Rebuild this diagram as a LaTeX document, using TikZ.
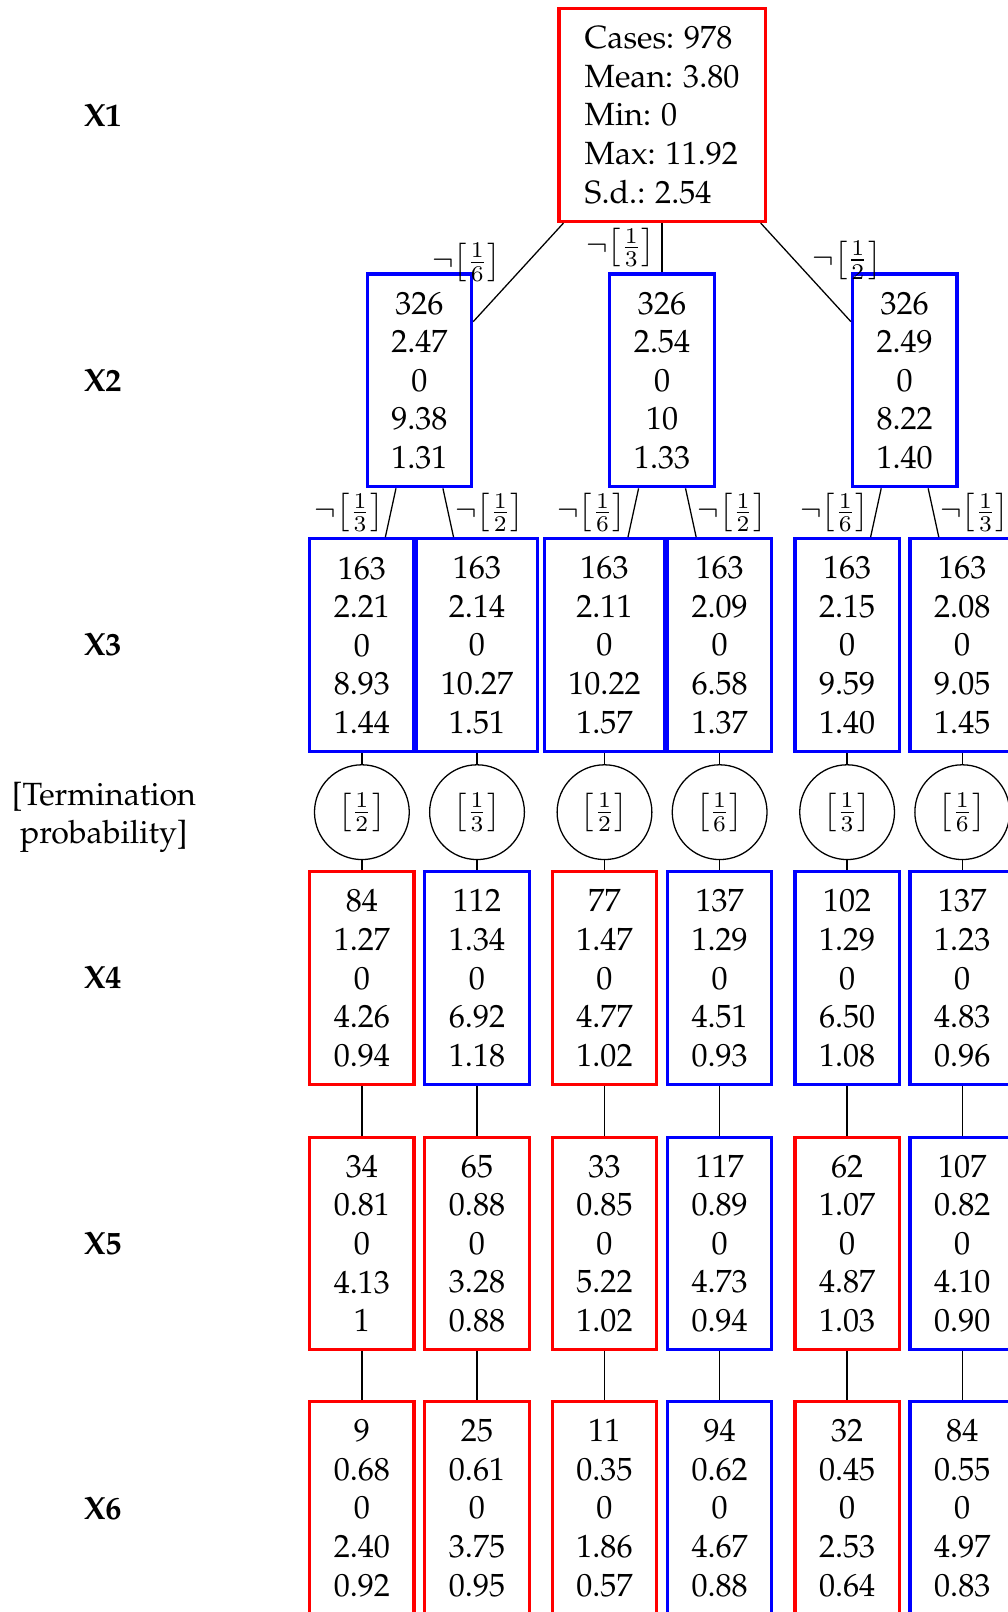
\documentclass[tikz,border=0pt]{standalone}
\usepackage[T1]{fontenc}
\usepackage{palatino}
\usepackage{amsmath,amssymb}
\usepackage{tikz}

\begin{document}
\begin{tikzpicture}[
  x=0.32pt, y=-0.32pt,
  stat/.style={draw, rectangle, line width=1pt, align=center, inner xsep=7.5pt, inner ysep=4.5pt, minimum height=66.2pt},
  redcell/.style={stat, draw=red},
  bluecell/.style={stat, draw=blue},
  term/.style={draw, circle, minimum size=29.5pt, inner sep=0pt},
  rowlabel/.style={font=\bfseries},
  cut/.style={inner sep=2pt},
  ptr/.style={-, thin}
]
\useasboundingbox (0,0) rectangle (980,1568);

\node[rowlabel] (lx1) at (100,112) {X1};
\node[rowlabel] (lx2) at (100,370) {X2};
\node[rowlabel] (lx3) at (100,627) {X3};
\node[align=center] (lterm) at (101,795) {[Termination\\probability]};
\node[rowlabel] (lx4) at (100,951) {X4};
\node[rowlabel] (lx5) at (100,1209) {X5};
\node[rowlabel] (lx6) at (100,1467) {X6};

\node[redcell, align=left, inner xsep=8pt] (root) at (644,112) {Cases: 978\\Mean: 3.80\\Min: 0\\Max: 11.92\\S.d.: 2.54};

\node[bluecell] (n2a) at (408,370) {326\\2.47\\0\\9.38\\1.31};
\node[bluecell] (n2b) at (644,370) {326\\2.54\\0\\10\\1.33};
\node[bluecell] (n2c) at (880,370) {326\\2.49\\0\\8.22\\1.40};

\node[bluecell] (n3a) at (352,627.5) {163\\2.21\\0\\8.93\\1.44};
\node[bluecell] (n3b) at (464,627.5) {163\\2.14\\0\\10.27\\1.51};
\node[bluecell] (n3c) at (588,627.5) {163\\2.11\\0\\10.22\\1.57};
\node[bluecell] (n3d) at (700,627.5) {163\\2.09\\0\\6.58\\1.37};
\node[bluecell] (n3e) at (824,627.5) {163\\2.15\\0\\9.59\\1.40};
\node[bluecell] (n3f) at (936,627.5) {163\\2.08\\0\\9.05\\1.45};

\node[term] (p3a) at (352,790) {$\left[\frac{1}{2}\right]$};
\node[term] (p3b) at (464,790) {$\left[\frac{1}{3}\right]$};
\node[term] (p3c) at (588,790) {$\left[\frac{1}{2}\right]$};
\node[term] (p3d) at (700,790) {$\left[\frac{1}{6}\right]$};
\node[term] (p3e) at (824,790) {$\left[\frac{1}{3}\right]$};
\node[term] (p3f) at (936,790) {$\left[\frac{1}{6}\right]$};

\node[redcell] (n4a) at (352,951.5) {84\\1.27\\0\\4.26\\0.94};
\node[bluecell] (n4b) at (464,951.5) {112\\1.34\\0\\6.92\\1.18};
\node[redcell] (n4c) at (588,951.5) {77\\1.47\\0\\4.77\\1.02};
\node[bluecell] (n4d) at (700,951.5) {137\\1.29\\0\\4.51\\0.93};
\node[bluecell] (n4e) at (824,951.5) {102\\1.29\\0\\6.50\\1.08};
\node[bluecell] (n4f) at (936,951.5) {137\\1.23\\0\\4.83\\0.96};

\node[redcell] (n5a) at (352,1209.5) {34\\0.81\\0\\4.13\\1};
\node[redcell] (n5b) at (464,1209.5) {65\\0.88\\0\\3.28\\0.88};
\node[redcell] (n5c) at (588,1209.5) {33\\0.85\\0\\5.22\\1.02};
\node[bluecell] (n5d) at (700,1209.5) {117\\0.89\\0\\4.73\\0.94};
\node[redcell] (n5e) at (824,1209.5) {62\\1.07\\0\\4.87\\1.03};
\node[bluecell] (n5f) at (936,1209.5) {107\\0.82\\0\\4.10\\0.90};

\node[redcell] (n6a) at (352,1467) {9\\0.68\\0\\2.40\\0.92};
\node[redcell] (n6b) at (464,1467) {25\\0.61\\0\\3.75\\0.95};
\node[redcell] (n6c) at (588,1467) {11\\0.35\\0\\1.86\\0.57};
\node[bluecell] (n6d) at (700,1467) {94\\0.62\\0\\4.67\\0.88};
\node[redcell] (n6e) at (824,1467) {32\\0.45\\0\\2.53\\0.64};
\node[bluecell] (n6f) at (936,1467) {84\\0.55\\0\\4.97\\0.83};

\draw[ptr] (root) -- node[cut, pos=0.4, left=6pt] (e2a) {$\neg\!\left[\frac{1}{6}\right]$} (n2a);
\draw[ptr] (root) -- node[cut, midway, left] (e2b) {$\neg\!\left[\frac{1}{3}\right]$} (n2b);
\draw[ptr] (root) -- node[cut, pos=0.375, right=3.5pt] (e2c) {$\neg\!\left[\frac{1}{2}\right]$} (n2c);

\draw[ptr] (n2a) -- node[cut, midway, left] (e3a) {$\neg\!\left[\frac{1}{3}\right]$} (n3a);
\draw[ptr] (n2a) -- node[cut, midway, right] (e3b) {$\neg\!\left[\frac{1}{2}\right]$} (n3b);
\draw[ptr] (n2b) -- node[cut, midway, left] (e3c) {$\neg\!\left[\frac{1}{6}\right]$} (n3c);
\draw[ptr] (n2b) -- node[cut, midway, right] (e3d) {$\neg\!\left[\frac{1}{2}\right]$} (n3d);
\draw[ptr] (n2c) -- node[cut, midway, left] (e3e) {$\neg\!\left[\frac{1}{6}\right]$} (n3e);
\draw[ptr] (n2c) -- node[cut, midway, right] (e3f) {$\neg\!\left[\frac{1}{3}\right]$} (n3f);

\draw[ptr] (n3a) -- (p3a) -- (n4a) -- (n5a) -- (n6a);
\draw[ptr] (n3b) -- (p3b) -- (n4b) -- (n5b) -- (n6b);
\draw[ptr] (n3c) -- (p3c) -- (n4c) -- (n5c) -- (n6c);
\draw[ptr] (n3d) -- (p3d) -- (n4d) -- (n5d) -- (n6d);
\draw[ptr] (n3e) -- (p3e) -- (n4e) -- (n5e) -- (n6e);
\draw[ptr] (n3f) -- (p3f) -- (n4f) -- (n5f) -- (n6f);
\end{tikzpicture}
\end{document}
